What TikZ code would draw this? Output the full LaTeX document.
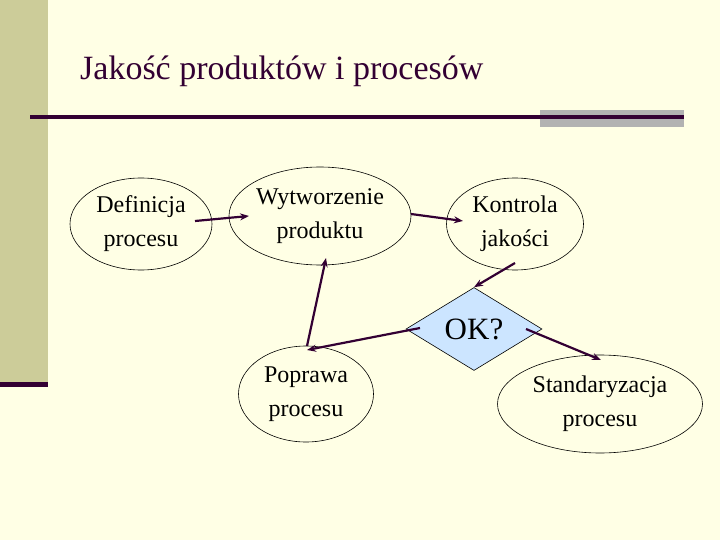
\documentclass[tikz,border=0pt]{standalone}
\usepackage{fontspec}
\setmainfont{Liberation Serif}
\usetikzlibrary{shapes.geometric,arrows.meta,calc}
\definecolor{bgcream}{HTML}{FFFFE5}
\definecolor{barkhaki}{HTML}{CCCC99}
\definecolor{rulegrey}{HTML}{B2B2B2}
\definecolor{darkplum}{HTML}{330033}
\definecolor{okblue}{HTML}{CCE5FF}
\tikzset{
  oval/.style={ellipse,draw=black,line width=0.6pt,inner sep=0pt,align=center,
    font=\fontsize{24}{34}\selectfont},
  decision/.style={diamond,draw=black,line width=0.6pt,fill=okblue,inner sep=0pt,
    minimum width=136pt,minimum height=83pt,font=\fontsize{31}{36}\selectfont},
  flow/.style={draw=darkplum,line width=2.2pt,-{Stealth[length=9pt,width=7pt]}},
}
\begin{document}
\begin{tikzpicture}[x=1pt,y=-1pt]
\useasboundingbox (0,0) rectangle (720,540);
\fill[bgcream] (0,0) rectangle (720,540);
% left bar
\fill[barkhaki] (0,0) rectangle (48,382);
\fill[darkplum] (0,382) rectangle (48,387);
% title
\node[anchor=base west,inner sep=0pt,font=\fontsize{34}{40}\selectfont,text=darkplum] (title) at (80,80) {Jakość produktów i procesów};
% rule
\fill[rulegrey] (540,110) rectangle (684,127);
\fill[darkplum] (30,115.5) rectangle (684,119);
% nodes
\node[oval,minimum width=142pt,minimum height=92pt] (def) at (141,224) {Definicja\\procesu};
\node[oval,minimum width=182pt,minimum height=98pt] (wyt) at (320,216) {Wytworzenie\\produktu};
\node[oval,minimum width=137pt,minimum height=92pt] (kon) at (515,224) {Kontrola\\jakości};
\node[decision] (ok) at (474,329) {OK?};
\node[oval,minimum width=135pt,minimum height=96pt] (pop) at (306,394) {Poprawa\\procesu};
\node[oval,minimum width=205pt,minimum height=98pt] (std) at (600,404) {Standaryzacja\\procesu};
% connectors
\draw[flow] ($(def.center)+(54,-3)$) -- ($(wyt.center)+(-71,0)$);
\draw[flow] ($(wyt.center)+(91,-2)$) -- ($(kon.center)+(-52,-3)$);
\draw[flow] ($(kon.center)+(0,39)$) -- (ok.north);
\draw[flow] ($(ok.center)+(-54,-1)$) -- ($(pop.center)+(1,-44)$);
\draw[flow] ($(pop.center)+(1,-48)$) -- ($(wyt.center)+(6,42)$);
\draw[flow] ($(ok.center)+(52,0)$) -- ($(std.center)+(1,-44)$);
\end{tikzpicture}
\end{document}
